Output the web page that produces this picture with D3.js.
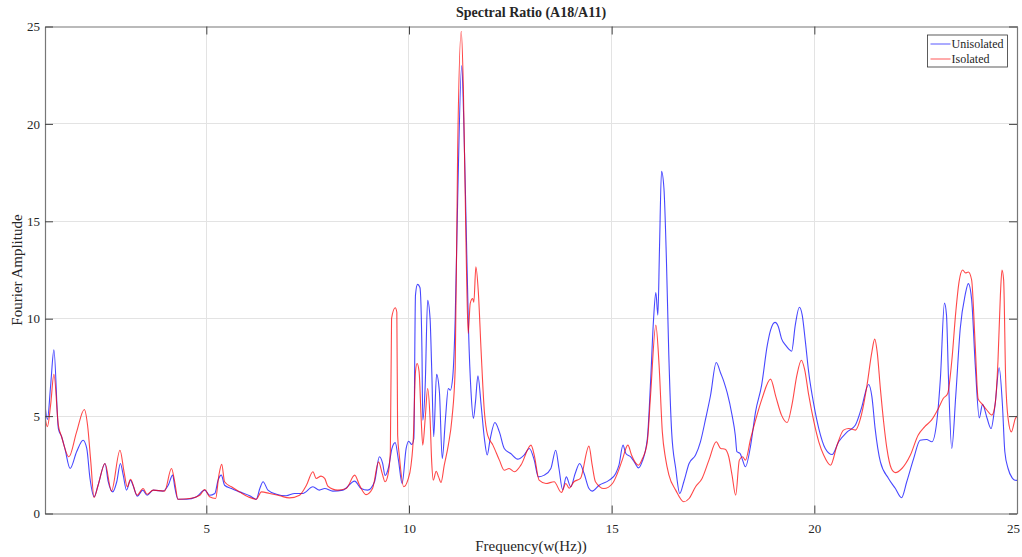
<!DOCTYPE html>
<html>
<head>
<meta charset="utf-8">
<script src="https://cdn.jsdelivr.net/npm/d3@7"></script>
<style>
  html, body { margin: 0; padding: 0; background: #ffffff; }
  svg { display: block; }
  text { font-family: "Liberation Serif", "Times New Roman", serif; fill: #262626; }
</style>
</head>
<body>
<svg id="chart" width="1022" height="557"></svg>
<script>
// Frequency (Hz) samples and spectral ratio for each record
const unisolatedFreq = [
  1.02, 1.08, 1.16, 1.24, 1.35, 1.43, 1.51, 1.64, 1.80, 1.96, 2.05, 2.13, 2.23, 2.33, 2.50,
  2.58, 2.69, 2.79, 2.88, 2.95, 3.03, 3.13, 3.19, 3.30, 3.43, 3.54, 3.69, 3.93, 4.06, 4.17,
  4.22, 4.30, 4.51, 4.76, 4.96, 5.08, 5.21, 5.29, 5.37, 5.45, 5.62, 5.82, 6.07, 6.23, 6.32,
  6.40, 6.52, 6.73, 6.97, 7.18, 7.38, 7.63, 7.79, 7.92, 8.12, 8.37, 8.66, 8.82, 8.98, 9.15,
  9.27, 9.35, 9.41, 9.50, 9.58, 9.66, 9.74, 9.83, 9.93, 9.99, 10.07, 10.12, 10.16, 10.21, 10.27,
  10.32, 10.34, 10.40, 10.46, 10.52, 10.56, 10.61, 10.68, 10.75, 10.82, 10.90, 10.97, 11.02, 11.08, 11.14,
  11.20, 11.30, 11.35, 11.41, 11.47, 11.53, 11.59, 11.64, 11.70, 11.78, 11.86, 11.93, 12.00, 12.12, 12.23,
  12.35, 12.51, 12.68, 12.84, 12.97, 13.09, 13.19, 13.34, 13.50, 13.62, 13.70, 13.79, 13.88, 13.99, 14.10,
  14.21, 14.32, 14.44, 14.52, 14.69, 14.94, 15.10, 15.18, 15.28, 15.35, 15.47, 15.58, 15.66, 15.75, 15.88,
  15.96, 16.03, 16.09, 16.14, 16.18, 16.23, 16.29, 16.35, 16.41, 16.48, 16.58, 16.68, 16.78, 16.91, 17.07,
  17.19, 17.32, 17.44, 17.58, 17.69, 17.77, 17.85, 17.97, 18.05, 18.09, 18.17, 18.23, 18.30, 18.43, 18.55,
  18.70, 18.84, 18.92, 19.03, 19.11, 19.19, 19.29, 19.37, 19.44, 19.53, 19.63, 19.70, 19.78, 19.86, 19.99,
  20.11, 20.27, 20.44, 20.60, 20.81, 21.01, 21.16, 21.34, 21.42, 21.50, 21.63, 21.83, 22.00, 22.15, 22.28,
  22.45, 22.61, 22.77, 22.90, 23.02, 23.11, 23.21, 23.26, 23.31, 23.39, 23.49, 23.60, 23.72, 23.80, 23.88,
  23.97, 24.07, 24.15, 24.26, 24.36, 24.46, 24.56, 24.64, 24.70, 24.78, 24.88, 24.95, 25.00
];
const unisolatedAmp = [
  5.56, 4.83, 6.60, 8.40, 4.36, 3.94, 3.34, 2.31, 3.17, 3.76, 3.34, 1.80, 0.86, 1.45, 2.57,
  1.63, 1.11, 1.63, 2.57, 1.97, 1.20, 1.71, 1.45, 0.89, 1.20, 0.94, 1.20, 1.15, 1.45, 1.97,
  1.37, 0.73, 0.73, 0.86, 1.20, 0.94, 1.03, 1.71, 1.97, 1.45, 1.28, 1.11, 0.91, 0.73, 1.28,
  1.63, 1.20, 0.99, 0.91, 1.03, 1.03, 1.37, 1.20, 1.28, 1.15, 1.20, 1.66, 1.28, 1.20, 1.63,
  2.91, 2.57, 1.95, 2.40, 3.34, 3.64, 2.74, 1.54, 3.34, 3.71, 3.54, 3.85, 11.21, 11.76, 11.60,
  8.30, 4.79, 6.59, 10.95, 10.01, 7.44, 3.94, 7.14, 6.25, 2.82, 4.88, 6.42, 6.33, 7.02, 10.01,
  16.00, 23.00, 20.28, 14.80, 9.33, 6.25, 4.88, 5.73, 7.07, 5.56, 3.85, 3.00, 3.79, 4.67, 4.19,
  3.34, 3.08, 2.79, 3.00, 3.34, 2.74, 1.88, 1.97, 2.31, 3.25, 2.31, 1.22, 1.88, 1.37, 2.05,
  2.57, 2.05, 1.28, 1.15, 1.45, 1.71, 2.05, 2.48, 3.51, 3.08, 2.91, 2.57, 2.34, 2.65, 3.85,
  6.76, 9.84, 11.34, 10.18, 13.60, 17.57, 16.68, 13.09, 8.13, 4.19, 2.31, 1.03, 1.63, 2.57, 3.00,
  3.68, 4.88, 6.07, 7.75, 7.20, 6.76, 6.20, 5.05, 4.02, 3.17, 3.08, 2.74, 2.40, 3.51, 5.22,
  6.59, 8.64, 9.41, 9.81, 9.60, 8.98, 8.64, 8.44, 8.33, 9.67, 10.59, 10.20, 8.81, 7.27, 5.56,
  4.36, 3.34, 3.03, 3.68, 4.19, 4.53, 5.39, 6.62, 6.00, 4.36, 2.65, 1.80, 1.28, 0.81, 1.63,
  2.82, 3.76, 3.80, 3.68, 4.70, 6.93, 10.80, 10.20, 6.93, 3.34, 6.07, 9.50, 11.21, 11.80, 11.00,
  7.61, 4.91, 5.60, 4.90, 4.36, 5.60, 7.48, 5.60, 3.17, 2.31, 1.83, 1.71, 1.70
];

const isolatedFreq = [
  1.02, 1.08, 1.16, 1.24, 1.35, 1.43, 1.61, 1.80, 1.99, 2.07, 2.15, 2.23, 2.33, 2.50, 2.66,
  2.87, 2.97, 3.05, 3.13, 3.29, 3.44, 3.54, 3.69, 3.97, 4.14, 4.22, 4.30, 4.59, 4.84, 4.96,
  5.08, 5.23, 5.31, 5.38, 5.45, 5.62, 5.82, 6.03, 6.23, 6.36, 6.56, 6.81, 7.05, 7.30, 7.47,
  7.63, 7.71, 7.83, 7.92, 8.00, 8.24, 8.45, 8.66, 8.78, 8.94, 9.10, 9.25, 9.34, 9.41, 9.48,
  9.54, 9.57, 9.66, 9.70, 9.72, 9.76, 9.87, 9.97, 10.05, 10.11, 10.16, 10.20, 10.25, 10.30, 10.34,
  10.40, 10.46, 10.52, 10.56, 10.60, 10.67, 10.73, 10.79, 10.87, 10.97, 11.06, 11.14, 11.20, 11.29, 11.34,
  11.41, 11.46, 11.51, 11.57, 11.60, 11.65, 11.71, 11.78, 11.86, 11.94, 12.07, 12.23, 12.35, 12.47, 12.60,
  12.76, 13.01, 13.09, 13.21, 13.38, 13.58, 13.76, 13.87, 13.95, 14.07, 14.23, 14.44, 14.52, 14.60, 14.81,
  15.02, 15.14, 15.26, 15.40, 15.49, 15.60, 15.66, 15.76, 15.88, 15.96, 16.09, 16.17, 16.25, 16.33, 16.41,
  16.58, 16.78, 16.91, 17.07, 17.23, 17.40, 17.58, 17.69, 17.80, 17.89, 17.97, 18.06, 18.15, 18.23, 18.30,
  18.43, 18.55, 18.71, 18.92, 19.05, 19.19, 19.33, 19.45, 19.57, 19.68, 19.76, 19.86, 19.99, 20.11, 20.23,
  20.40, 20.56, 20.72, 20.85, 21.01, 21.16, 21.30, 21.42, 21.49, 21.55, 21.63, 21.71, 21.79, 21.90, 22.00,
  22.16, 22.37, 22.56, 22.72, 22.89, 23.06, 23.18, 23.29, 23.39, 23.49, 23.57, 23.66, 23.73, 23.80, 23.88,
  23.97, 24.04, 24.13, 24.26, 24.38, 24.46, 24.53, 24.59, 24.63, 24.67, 24.72, 24.78, 24.86, 24.96, 25.00
];
const isolatedAmp = [
  4.95, 4.46, 5.60, 7.15, 4.53, 3.94, 2.91, 4.19, 5.34, 4.53, 2.65, 0.82, 1.45, 2.57, 1.15,
  3.25, 2.14, 1.37, 1.76, 0.94, 1.28, 0.99, 1.20, 1.15, 2.31, 1.63, 0.73, 0.77, 0.94, 1.23,
  0.86, 0.77, 1.97, 2.52, 1.63, 1.37, 1.11, 0.86, 0.73, 1.11, 1.03, 0.91, 0.80, 0.94, 1.45,
  2.14, 1.80, 1.92, 1.80, 1.40, 1.20, 1.28, 1.97, 1.45, 0.97, 1.28, 2.65, 2.05, 1.63, 1.97,
  3.17, 10.01, 10.56, 10.33, 4.02, 3.00, 1.37, 1.71, 2.48, 4.02, 7.27, 7.70, 7.27, 4.88, 3.51,
  4.88, 6.42, 4.88, 2.65, 1.71, 2.17, 1.88, 1.59, 2.48, 3.51, 4.88, 7.44, 18.57, 24.76, 21.99,
  13.43, 9.24, 10.78, 11.04, 10.85, 12.66, 11.40, 8.30, 5.22, 4.02, 3.51, 2.74, 2.22, 2.31, 2.14,
  2.48, 3.51, 3.00, 1.71, 1.54, 1.63, 1.08, 1.54, 1.30, 1.63, 1.80, 3.46, 2.48, 1.63, 1.28,
  1.54, 2.05, 2.74, 3.51, 3.00, 2.57, 2.48, 2.82, 3.68, 6.07, 9.67, 7.61, 4.19, 2.82, 2.00,
  1.20, 0.60, 0.77, 1.37, 1.80, 2.74, 3.68, 3.34, 3.30, 2.90, 1.97, 0.94, 2.74, 2.91, 2.74,
  3.85, 4.79, 5.90, 6.90, 6.00, 5.05, 4.67, 5.60, 7.10, 7.87, 7.40, 6.10, 4.70, 3.68, 3.00,
  2.48, 3.50, 4.28, 4.36, 4.28, 5.05, 6.59, 8.30, 8.95, 8.30, 6.40, 4.70, 3.34, 2.31, 2.10,
  2.31, 3.00, 4.02, 4.45, 4.79, 5.39, 5.90, 6.16, 7.80, 10.35, 11.89, 12.50, 12.35, 12.40, 12.00,
  8.60, 5.90, 5.64, 5.30, 5.05, 5.60, 7.80, 11.20, 12.50, 12.00, 6.93, 4.88, 4.19, 4.88, 5.00
];

const xTicks = [5, 10, 15, 20, 25];
const yTicks = [0, 5, 10, 15, 20, 25];
const seriesNames = ["Unisolated", "Isolated"];
const seriesColors = ["#0000ff", "#ff0000"];

const width = 1022, height = 557;
const margin = { left: 45, right: 5, top: 26.5, bottom: 43.5 };
const plotW = width - margin.left - margin.right;
const plotH = height - margin.top - margin.bottom;

const svg = d3.select("#chart");
svg.append("rect").attr("width", width).attr("height", height).attr("fill", "#ffffff");

const x = d3.scaleLinear().domain([1.02, 25]).range([0, plotW]);
const y = d3.scaleLinear().domain([0, 25]).range([plotH, 0]);

const g = svg.append("g").attr("transform", `translate(${margin.left},${margin.top})`);

// Grid lines
g.append("g").selectAll("line").data(xTicks.filter(t => t < 25)).join("line")
  .attr("x1", d => x(d)).attr("x2", d => x(d)).attr("y1", 0).attr("y2", plotH)
  .attr("stroke", "#e3e3e3").attr("stroke-width", 1).attr("shape-rendering", "crispEdges");
g.append("g").selectAll("line").data(yTicks.filter(t => t > 0 && t < 25)).join("line")
  .attr("x1", 0).attr("x2", plotW).attr("y1", d => y(d)).attr("y2", d => y(d))
  .attr("stroke", "#e3e3e3").attr("stroke-width", 1).attr("shape-rendering", "crispEdges");

// Spectral ratio curves
const line = d3.line().x(d => x(d[0])).y(d => y(d[1])).curve(d3.curveMonotoneX);
const series = [
  d3.zip(unisolatedFreq, unisolatedAmp),
  d3.zip(isolatedFreq, isolatedAmp)
];
const clip = svg.append("defs").append("clipPath").attr("id", "plotclip");
clip.append("rect").attr("width", plotW).attr("height", plotH);
const curves = g.append("g").attr("clip-path", "url(#plotclip)");
series.forEach((s, i) => {
  curves.append("path").datum(s).attr("d", line)
    .attr("fill", "none").attr("stroke", seriesColors[i])
    .attr("stroke-opacity", 0.72).attr("stroke-width", 1.1)
    .attr("stroke-linejoin", "round");
});

// Axes with inward ticks on all four sides
const tickLen = 8;
const axisColor = "#777";
const xAxisB = d3.axisBottom(x).tickValues(xTicks).tickSizeInner(-tickLen).tickSizeOuter(0).tickPadding(10);
const xAxisT = d3.axisTop(x).tickValues(xTicks).tickSizeInner(-tickLen).tickSizeOuter(0).tickFormat("");
const yAxisL = d3.axisLeft(y).tickValues(yTicks).tickSizeInner(-tickLen).tickSizeOuter(0).tickPadding(5);
const yAxisR = d3.axisRight(y).tickValues(yTicks).tickSizeInner(-tickLen).tickSizeOuter(0).tickFormat("");

function styleAxis(sel) {
  sel.select(".domain").attr("stroke", axisColor).attr("stroke-width", 1.2);
  sel.selectAll(".tick line").attr("stroke", "#444").attr("stroke-width", 1);
  sel.selectAll(".tick text").attr("font-family", "Liberation Serif, serif")
    .attr("font-size", 13).attr("fill", "#262626");
}
const bottomAxis = g.append("g").attr("transform", `translate(0,${plotH})`).call(xAxisB).call(styleAxis);
// keep the last tick label inside the canvas
bottomAxis.selectAll(".tick text").filter(d => d === 25).attr("dx", -4);
g.append("g").call(xAxisT).call(styleAxis);
g.append("g").call(yAxisL).call(styleAxis);
g.append("g").attr("transform", `translate(${plotW},0)`).call(yAxisR).call(styleAxis);

// Title and axis labels
svg.append("text").attr("x", margin.left + plotW / 2).attr("y", 17)
  .attr("text-anchor", "middle").attr("font-size", 14).attr("font-weight", "bold")
  .text("Spectral Ratio (A18/A11)");
svg.append("text").attr("x", margin.left + plotW / 2).attr("y", 551)
  .attr("text-anchor", "middle").attr("font-size", 15)
  .text("Frequency(w(Hz))");
svg.append("text")
  .attr("transform", `translate(22,${margin.top + plotH / 2}) rotate(-90)`)
  .attr("text-anchor", "middle").attr("font-size", 15)
  .text("Fourier Amplitude");

// Legend
const legend = svg.append("g").attr("transform", "translate(927.5,35)");
legend.append("rect").attr("width", 80).attr("height", 32)
  .attr("fill", "#ffffff").attr("stroke", "#333").attr("stroke-width", 0.8);
seriesNames.forEach((name, i) => {
  const ly = 9 + i * 15;
  legend.append("line").attr("x1", 3).attr("x2", 23).attr("y1", ly).attr("y2", ly)
    .attr("stroke", seriesColors[i]).attr("stroke-opacity", 0.6).attr("stroke-width", 1.1);
  legend.append("text").attr("x", 24).attr("y", ly + 4).attr("font-size", 12).text(name);
});
</script>
</body>
</html>
